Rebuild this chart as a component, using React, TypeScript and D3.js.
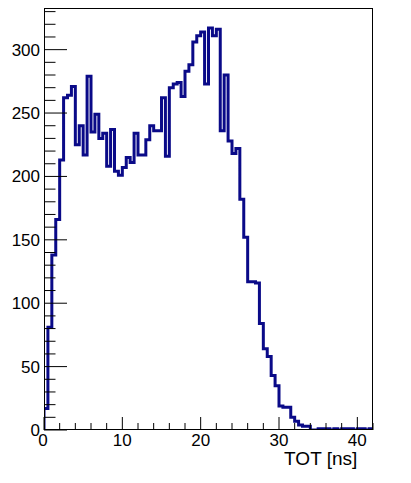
import React, { useEffect, useRef } from "react";
import * as d3 from "d3";

// TOT histogram, 0.5 ns bins from 0 to 42 ns
const binWidth = 0.5;
const counts = [
  17, 81, 138, 166, 213, 262, 264, 271, 225, 240, 217, 279, 235, 249, 230, 234,
  208, 237, 204, 201, 207, 215, 211, 234, 217, 217, 229, 240, 236, 236, 262, 216,
  270, 273, 274, 263, 283, 288, 306, 311, 314, 273, 317, 311, 316, 236, 280, 228,
  218, 222, 182, 152, 117, 117, 116, 84, 64, 58, 43, 35, 19, 18, 18, 10,
  7, 4, 3, 3, 0, 0, 1, 1, 1, 0, 1, 0, 1, 1, 1, 0,
  1, 1, 0, 1,
];
const xMajor = [0, 10, 20, 30, 40];
const yMajor = [0, 50, 100, 150, 200, 250, 300];
const xTitle = "TOT [ns]";

export default function App() {
  const ref = useRef<SVGSVGElement>(null);
  useEffect(() => {
    const node = ref.current; if (!node) return;
    const svg = d3.select(node);
    const w = 411, h = 483, m = { t: 8, r: 38, b: 53, l: 44 };
    svg.attr("viewBox", `0 0 ${w} ${h}`).selectAll("*").remove();
    const font = "'Liberation Sans', Arial, Helvetica, sans-serif";
    const xMax = counts.length * binWidth;
    const x = d3.scaleLinear().domain([0, xMax]).range([m.l, w - m.r]);
    const y = d3.scaleLinear().domain([0, d3.max(counts)! * 1.05]).range([h - m.b, m.t]);
    const g = svg.append("g");
    g.append("rect").attr("width", w).attr("height", h).attr("fill", "#fff");

    // histogram outline
    const pts: [number, number][] = [[x(0), y(0)]];
    counts.forEach((c, i) => {
      pts.push([x(i * binWidth), y(c)], [x((i + 1) * binWidth), y(c)]);
    });
    pts.push([x(xMax), y(0)]);
    g.append("clipPath").attr("id", "frame").append("rect")
      .attr("x", m.l).attr("y", m.t).attr("width", w - m.l - m.r).attr("height", h - m.t - m.b);
    g.append("path").attr("clip-path", "url(#frame)").attr("d", d3.line()(pts))
      .attr("fill", "none").attr("stroke", "#0a0a88").attr("stroke-width", 3).attr("stroke-linejoin", "miter");

    // x axis ticks (inside, pointing up)
    const x0 = h - m.b;
    const xMinor = d3.range(0, xMax + 0.001, 2);
    g.append("g").selectAll("line").data(xMinor).join("line")
      .attr("x1", (d) => x(d)).attr("x2", (d) => x(d))
      .attr("y1", x0).attr("y2", (d) => x0 - (d % 10 === 0 ? 13 : 7))
      .attr("stroke", "#000").attr("stroke-width", 1);
    g.append("g").selectAll("text").data(xMajor).join("text")
      .attr("x", (d) => x(d) + (d === 0 ? -1 : 0)).attr("y", x0 + 16)
      .attr("text-anchor", "middle").attr("font-family", font).attr("font-size", 17)
      .text((d) => d);

    // y axis ticks (inside, pointing right)
    const yMinor = d3.range(0, y.domain()[1], 10);
    g.append("g").selectAll("line").data(yMinor).join("line")
      .attr("y1", (d) => y(d)).attr("y2", (d) => y(d))
      .attr("x1", m.l).attr("x2", (d) => m.l + (d % 50 === 0 ? 23 : 11.5))
      .attr("stroke", "#000").attr("stroke-width", 1);
    g.append("g").selectAll("text").data(yMajor).join("text")
      .attr("x", m.l - 4).attr("y", (d) => y(d) + 6)
      .attr("text-anchor", "end").attr("font-family", font).attr("font-size", 17)
      .text((d) => d);

    // frame
    g.append("rect").attr("x", m.l + 0.5).attr("y", m.t + 0.5)
      .attr("width", w - m.l - m.r - 1).attr("height", h - m.t - m.b - 1)
      .attr("fill", "none").attr("stroke", "#000").attr("stroke-width", 1);

    g.append("text").attr("x", x(40)).attr("y", 465).attr("text-anchor", "end")
      .attr("font-family", font).attr("font-size", 19).text(xTitle);
  }, []);
  return <svg ref={ref} width={411} height={483} style={{ position: "fixed", left: 0, top: 0, display: "block" }} />;
}
